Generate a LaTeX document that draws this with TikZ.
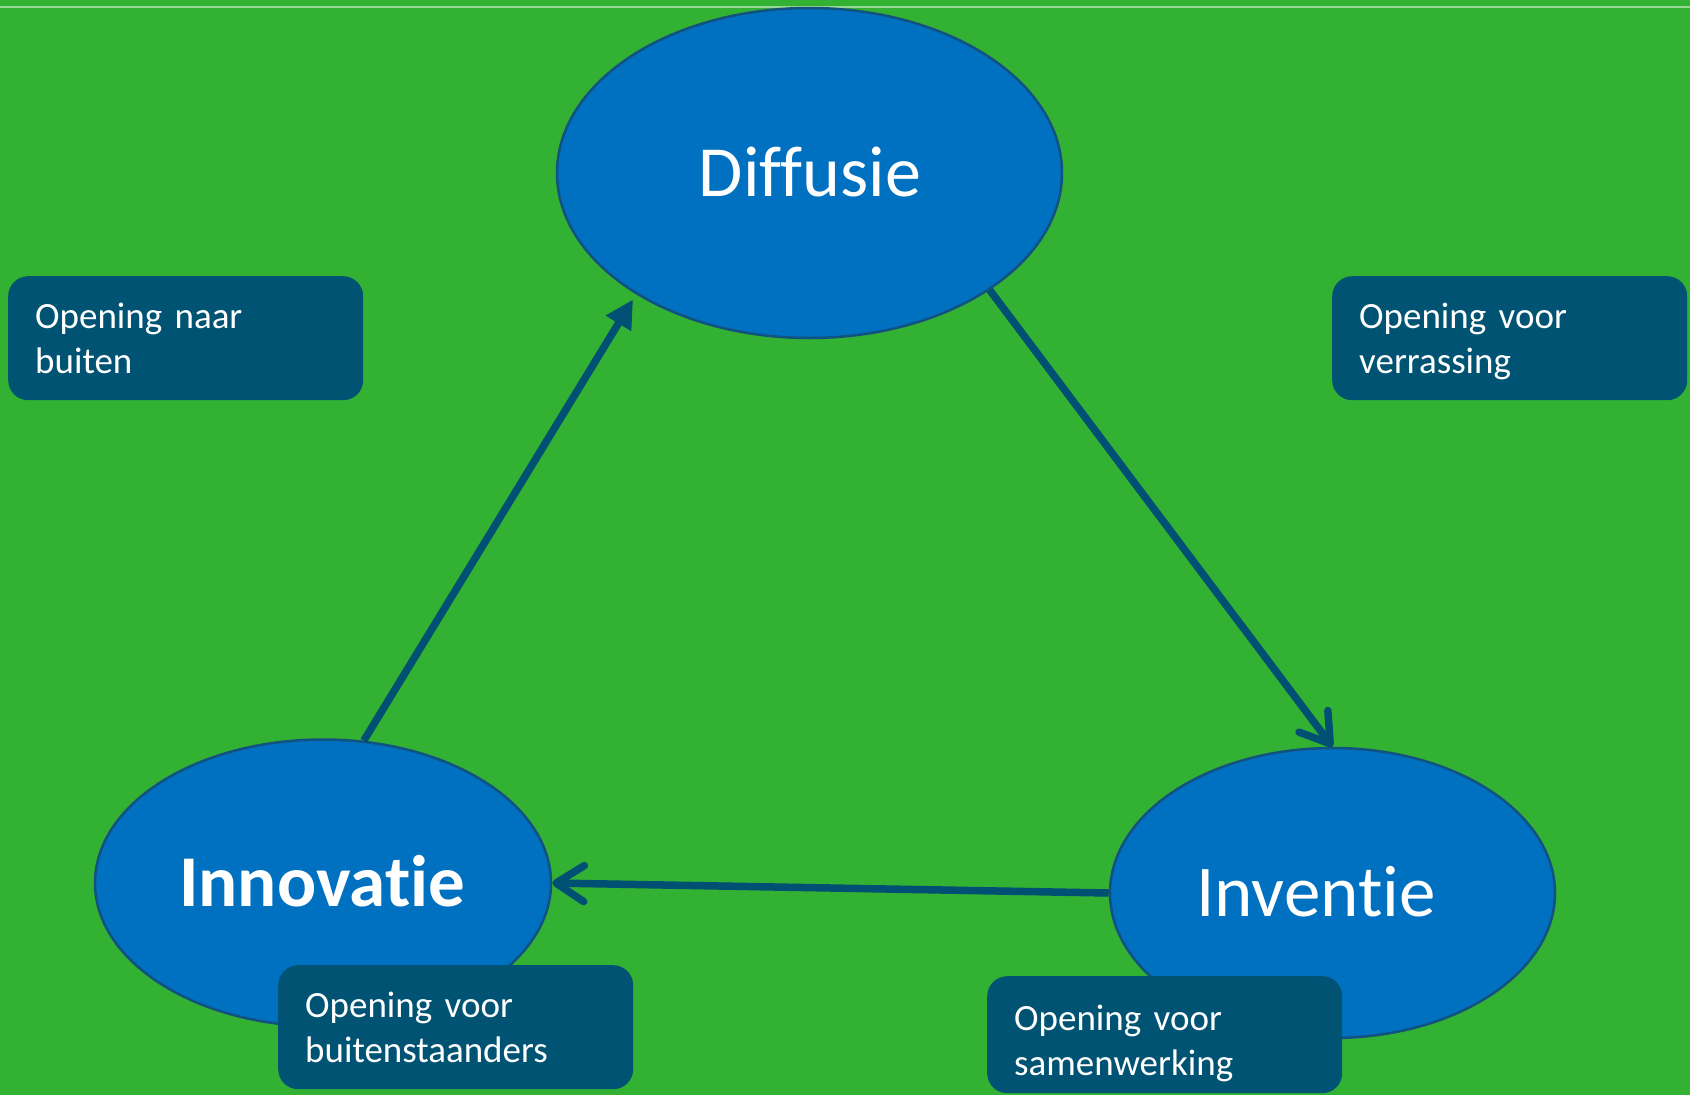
\documentclass[tikz,border=0pt]{standalone}
\usepackage{fontspec}
\setmainfont{Carlito}[Ligatures={NoCommon}]
\usetikzlibrary{arrows.meta,shapes.geometric}
\definecolor{bggreen}{RGB}{51,177,51}
\definecolor{lightline}{RGB}{150,215,150}
\definecolor{bubblefill}{RGB}{0,112,192}
\definecolor{bubbleedge}{RGB}{18,82,128}
\definecolor{boxblue}{RGB}{0,83,114}
\definecolor{arrowblue}{RGB}{0,80,115}
\newcommand{\lastline}[1]{\raisebox{0pt}[\height][0pt]{#1}}
\begin{document}
\begin{tikzpicture}[x=1pt,y=-1pt,
  bubble/.style={ellipse, draw=bubbleedge, line width=2.5pt, fill=bubblefill, inner sep=0pt},
  bigtext/.style={text=white, inner sep=0pt, anchor=base},
  obox/.style={rectangle, rounded corners=20pt, fill=boxblue, text=white,
    minimum width=355pt, minimum height=124pt, text width=301pt, inner sep=0pt,
    align=left, anchor=north west, font=\fontsize{37}{45}\selectfont},
  conn/.style={draw=arrowblue, line width=7.5pt}]
\useasboundingbox (0,0) rectangle (1690,1095);
\clip (0,0) rectangle (1690,1095);
\fill[bggreen] (0,0) rectangle (1690,1095);
\coordinate (tl) at (0,6.5);
\coordinate (tr) at (1690,6.5);
\draw[lightline, line width=2pt] (tl) -- (tr);

\node[bubble, minimum width=505pt, minimum height=330pt] (diff) at (809.5,173) {};
\node[bubble, minimum width=456pt, minimum height=287pt] (inno) at (323,883) {};
\node[bubble, minimum width=445pt, minimum height=290pt] (inv) at (1332.5,893) {};

\node[bigtext, font=\fontsize{72}{86}\selectfont] (diffT) at (810,196) {Diffusie};
\node[bigtext, font=\fontsize{73}{88}\selectfont\bfseries] (innoT) at (322,906) {Innovatie};
\node[bigtext, font=\fontsize{73}{88}\selectfont] (invT) at (1316,916) {Inventie};

\draw[conn, -{Triangle[length=28pt,width=28pt]}, shorten >=6pt] (inno.74) -- (diff.215);
\draw[conn, -{Straight Barb[length=28pt,width=36pt,round]}] (diff.-33.4) -- (inv.north);
\draw[conn, -{Straight Barb[length=28pt,width=36pt,round]}] (inv.west) -- (inno.east);

\node[obox] (b1) at (8,276) {Opening naar\\\lastline{buiten}};
\node[obox] (b2) at (1332,276) {Opening voor\\\lastline{verrassing}};
\node[obox] (b3) at (278,965) {Opening voor\\\lastline{buitenstaanders}};
\node[obox, minimum height=117pt] (b4) at (987,976) {\rule{0pt}{36pt}Opening voor\\\lastline{samenwerking}};
\end{tikzpicture}
\end{document}
